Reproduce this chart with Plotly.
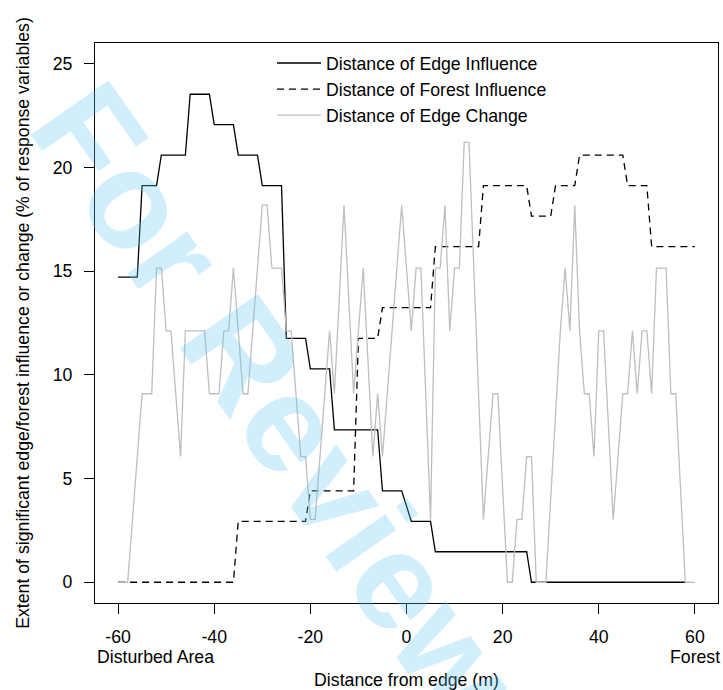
import plotly.graph_objects as go

# Distance of Edge Influence (% of response variables)
dei_x = [-60, -56, -55, -52, -51, -46, -45, -41, -40, -36, -35, -31, -30, -26,
         -25, -21, -20, -16, -15, -6, -5, -1, 1, 5, 6, 25, 26, 58]
dei_y = [14.71, 14.71, 19.12, 19.12, 20.59, 20.59, 23.53, 23.53, 22.06, 22.06,
         20.59, 20.59, 19.12, 19.12, 11.76, 11.76, 10.29, 10.29, 7.35, 7.35,
         4.41, 4.41, 2.94, 2.94, 1.47, 1.47, 0.0, 0.0]

# Distance of Forest Influence
dfi_x = [-60, -36, -35, -21, -20, -11, -10, -6, -5, 5, 6, 15, 16, 25, 26, 30,
         31, 35, 36, 45, 46, 50, 51, 60]
dfi_y = [0.0, 0.0, 2.94, 2.94, 4.41, 4.41, 11.76, 11.76, 13.24, 13.24, 16.18,
         16.18, 19.12, 19.12, 17.65, 17.65, 19.12, 19.12, 20.59, 20.59, 19.12,
         19.12, 16.18, 16.18]

# Distance of Edge Change
dec_x = [-60, -58, -55, -53, -52, -51, -50, -49, -47, -46, -42, -41, -39, -38,
         -37, -36, -34, -33, -30, -29, -28, -26, -25, -24, -22, -21, -20, -19,
         -16, -15, -13, -11, -9, -7, -6, -5, -1, 1, 2, 3, 5, 6, 7, 8, 9, 10,
         11, 12, 13, 16, 18, 19, 21, 22, 23, 24, 25, 26, 27, 29, 32, 33, 34,
         35, 36, 37, 38, 39, 40, 41, 43, 45, 46, 47, 48, 49, 50, 51, 52, 54,
         55, 56, 58, 60]
dec_y = [0.0, 0.0, 9.09, 9.09, 15.15, 15.15, 12.12, 12.12, 6.06, 12.12, 12.12,
         9.09, 9.09, 12.12, 12.12, 15.15, 9.09, 9.09, 18.18, 18.18, 15.15,
         15.15, 12.12, 12.12, 6.06, 6.06, 3.03, 3.03, 12.12, 9.09, 18.18, 9.09,
         15.15, 6.06, 9.09, 6.06, 18.18, 12.12, 15.15, 15.15, 3.03, 15.15,
         15.15, 18.18, 12.12, 15.15, 15.15, 21.21, 21.21, 3.03, 9.09, 9.09,
         0.0, 0.0, 3.03, 3.03, 6.06, 6.06, 0.0, 0.0, 12.12, 15.15, 12.12,
         18.18, 12.12, 9.09, 9.09, 6.06, 12.12, 12.12, 3.03, 9.09, 9.09, 12.12,
         9.09, 12.12, 12.12, 9.09, 15.15, 15.15, 9.09, 9.09, 0.0, 0.0]

x_ticks = [-60, -40, -20, 0, 20, 40, 60]
y_ticks = [0, 5, 10, 15, 20, 25]

FONT = "Liberation Sans, Arial, sans-serif"
FS = 17.7

fig = go.Figure()
fig.add_trace(go.Scatter(x=dei_x, y=dei_y, mode="lines",
                         name="Distance of Edge Influence",
                         line=dict(color="black", width=1.3)))
fig.add_trace(go.Scatter(x=dfi_x, y=dfi_y, mode="lines",
                         name="Distance of Forest Influence",
                         line=dict(color="black", width=1.3, dash="7px,5px")))
fig.add_trace(go.Scatter(x=dec_x, y=dec_y, mode="lines",
                         name="Distance of Edge Change",
                         line=dict(color="#bebebe", width=1.3)))

fig.update_layout(
    width=723, height=690,
    margin=dict(l=95, r=5, t=43, b=87, autoexpand=False),
    paper_bgcolor="white", plot_bgcolor="white",
    font=dict(family=FONT, size=FS, color="black"),
    showlegend=True,
    legend=dict(x=0.2841, y=0.9964, xanchor="left", yanchor="top",
                bgcolor="rgba(0,0,0,0)", borderwidth=0,
                font=dict(family=FONT, size=FS, color="black"),
                itemwidth=44),
    xaxis=dict(range=[-64.8, 64.8], tickvals=x_ticks,
               ticktext=[str(v) for v in x_ticks], automargin=False,
               showgrid=False, zeroline=False,
               showline=True, linecolor="black", linewidth=1, mirror=True,
               ticks="outside", ticklen=10, tickwidth=1, tickcolor="black",
               ticklabelstandoff=8,
               title=dict(text="Distance from edge (m)", standoff=28,
                          font=dict(family=FONT, size=FS))),
    yaxis=dict(range=[-1, 26], tickvals=y_ticks,
               ticktext=[str(v) for v in y_ticks], automargin=False,
               showgrid=False, zeroline=False,
               showline=True, linecolor="black", linewidth=1, mirror=True,
               ticks="outside", ticklen=10, tickwidth=1, tickcolor="black",
               ticklabelstandoff=8,
               title=dict(text="Extent of significant edge/forest influence or change (% of response variables)",
                          standoff=18, font=dict(family=FONT, size=FS))),
)

fig.add_annotation(text="Disturbed Area", xref="paper", yref="paper",
                   x=0.0, y=-0.096, xanchor="left", yanchor="middle",
                   showarrow=False, font=dict(family=FONT, size=FS))
fig.add_annotation(text="Forest", xref="x", yref="paper",
                   x=60, y=-0.096, xanchor="center", yanchor="middle",
                   showarrow=False, font=dict(family=FONT, size=FS))

# watermark
fig.add_annotation(text="For Review Only", xref="paper", yref="paper",
                   x=(375 - 95) / 623, y=1 - (543 - 43) / 560,
                   xanchor="center", yanchor="middle",
                   textangle=55, showarrow=False,
                   font=dict(family=FONT, size=138, weight="bold",
                             color="rgba(98,198,245,0.3)"))

fig.write_html("out.html")
